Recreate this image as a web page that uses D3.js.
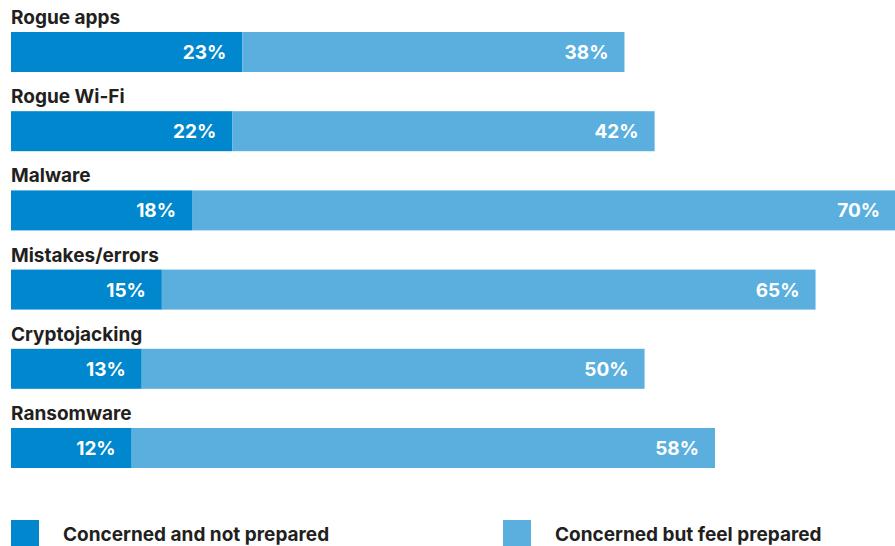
<!DOCTYPE html>
<html>
<head>
<meta charset="utf-8">
<script src="https://cdn.jsdelivr.net/npm/d3@7"></script>
<style>
  body { margin: 0; background: #fff; }
  text { font-family: Inter, "Liberation Sans", sans-serif; font-weight: 700; }
</style>
</head>
<body>
<div id="chart"></div>
<script>
var categories = ["Rogue apps", "Rogue Wi-Fi", "Malware", "Mistakes/errors", "Cryptojacking", "Ransomware"]
var notPrepared = [23, 22, 18, 15, 13, 12]
var feelPrepared = [38, 42, 70, 65, 50, 58]
var seriesNames = ["Concerned and not prepared", "Concerned but feel prepared"]
var colors = ["#0087cd", "#5aafdf"]

var width = 895, height = 546
var svg = d3.select("#chart").append("svg").attr("width", width).attr("height", height)

var x = d3.scaleLinear().domain([0, 88]).range([11, 896])
var y = d3.scaleBand().domain(categories).range([32, 468]).paddingInner(0.495).paddingOuter(0)

var rows = svg.selectAll("g.row").data(categories).enter()
  .append("g").attr("class", "row")

rows.each(function(c, i) {
  var g = d3.select(this)
  var top = y(c), h = y.bandwidth()
  var a = notPrepared[i], b = feelPrepared[i]

  // category label
  g.append("text").text(c)
    .attr("x", 11).attr("y", top - 8)
    .attr("fill", "#231f20").style("font-size", "19px")

  g.append("rect").attr("x", x(0)).attr("y", top)
    .attr("width", x(a) - x(0)).attr("height", h).attr("fill", colors[0])
  g.append("rect").attr("x", x(a)).attr("y", top)
    .attr("width", x(a + b) - x(a)).attr("height", h).attr("fill", colors[1])

  g.append("text").text(a + "%")
    .attr("x", x(a) - 16).attr("y", top + h / 2 + 7)
    .attr("text-anchor", "end").attr("fill", "#fff").style("font-size", "19px")
  g.append("text").text(b + "%")
    .attr("x", x(a + b) - 16).attr("y", top + h / 2 + 7)
    .attr("text-anchor", "end").attr("fill", "#fff").style("font-size", "19px")
})

// legend
var legendX = [11, 503]
seriesNames.forEach(function(name, i) {
  svg.append("rect").attr("x", legendX[i]).attr("y", 520)
    .attr("width", 28).attr("height", 28).attr("fill", colors[i])
  svg.append("text").text(name)
    .attr("x", legendX[i] + 52).attr("y", 541)
    .attr("fill", "#231f20").style("font-size", "19px")
})
</script>
</body>
</html>
